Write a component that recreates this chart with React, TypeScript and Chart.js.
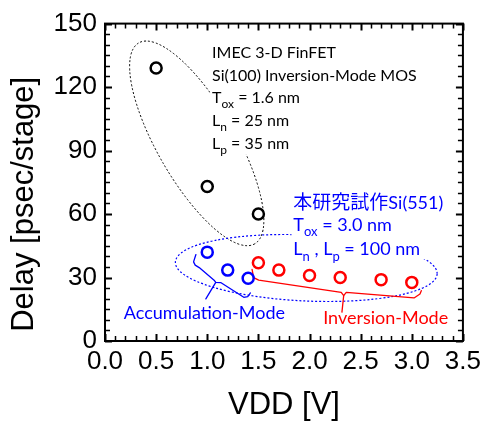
import { useEffect, useRef } from 'react';
import { Chart, registerables } from 'chart.js';

Chart.register(...registerables);

// ---- data ----
const imecVdd = [0.5, 1.0, 1.5];
const imecDelay = [129, 73, 60];
const accVdd = [1.0, 1.2, 1.4];
const accDelay = [42, 33.5, 29.7];
const invVdd = [1.5, 1.7, 2.0, 2.3, 2.7, 3.0];
const invDelay = [37, 33.5, 31, 30, 29, 27.7];
const xTickValues = [0, 0.5, 1.0, 1.5, 2.0, 2.5, 3.0, 3.5];
const yTickValues = [0, 30, 60, 90, 120, 150];
const xTitle = 'VDD [V]';
const yTitle = 'Delay [psec/stage]';

type Seg = { t: string; sub?: boolean; cjk?: boolean };
const imecLines: Seg[][] = [
  [{ t: 'IMEC 3-D FinFET' }],
  [{ t: 'Si(100) Inversion-Mode MOS' }],
  [{ t: 'T' }, { t: 'ox', sub: true }, { t: ' = 1.6 nm' }],
  [{ t: 'L' }, { t: 'n', sub: true }, { t: ' = 25 nm' }],
  [{ t: 'L' }, { t: 'p', sub: true }, { t: ' = 35 nm' }],
];
const ourLines: Seg[][] = [
  [{ t: '本研究試作', cjk: true }, { t: 'Si(551)' }],
  [{ t: 'T' }, { t: 'ox', sub: true }, { t: ' = 3.0 nm' }],
  [{ t: 'L' }, { t: 'n', sub: true }, { t: ' , L' }, { t: 'p', sub: true }, { t: ' = 100 nm' }],
];
const accLabel = 'Accumulation-Mode';
const invLabel = 'Inversion-Mode';

const BLUE = '#0000ff';
const RED = '#ff0000';
const SANS = '"Liberation Sans", Arial, sans-serif';
const ANNO = 'Lato, "Noto Sans", sans-serif';

// annotation geometry (data coordinates)
const accBrace = {
  main: [[0.889, 40.85], [0.866, 37.41], [0.882, 35.87], [0.921, 34.7], [1.067, 28.74], [1.083, 27.67], [1.131, 27.62], [1.357, 20.64], [1.396, 20.96], [1.422, 22.69]],
  stem: [[1.083, 27.67], [0.986, 19.89]],
};
const invBrace = {
  main: [[1.438, 33.87], [1.454, 29.95], [1.503, 28.74], [2.31, 22.97], [2.334, 21.43], [2.359, 22.97], [3.022, 20.36], [3.08, 22.22], [3.093, 23.76]],
  stem: [[2.334, 21.43], [2.317, 13.65]],
};

function drawRich(ctx: CanvasRenderingContext2D, segs: Seg[], x: number, y: number, size: number, cjkSize: number, color: string) {
  let cx = x;
  ctx.fillStyle = color;
  ctx.textBaseline = 'alphabetic';
  ctx.textAlign = 'left';
  for (const s of segs) {
    if (s.cjk) ctx.font = `${cjkSize}px "Noto Sans CJK JP", sans-serif`;
    else if (s.sub) ctx.font = `${Math.round(size * 0.72)}px ${ANNO}`;
    else ctx.font = `${size}px ${ANNO}`;
    const dy = s.sub ? size * 0.32 : 0;
    ctx.fillText(s.t, cx, y + dy);
    cx += ctx.measureText(s.t).width;
  }
}

const annotationPlugin = {
  id: 'annotations',
  beforeDatasetsDraw(chart: any) {
    const ctx: CanvasRenderingContext2D = chart.ctx;
    const xs = chart.scales.x;
    const ys = chart.scales.y;
    const px = (v: number) => xs.getPixelForValue(v);
    const py = (v: number) => ys.getPixelForValue(v);
    ctx.save();
    // black dotted ellipse
    ctx.lineWidth = 1;
    ctx.setLineDash([2, 2]);
    ctx.strokeStyle = '#000';
    ctx.beginPath();
    ctx.ellipse(px(0.897), py(93.4), 116, 39, (60 * Math.PI) / 180, 0, Math.PI * 2);
    ctx.stroke();
    // blue dotted ellipse
    ctx.strokeStyle = BLUE;
    ctx.lineWidth = 1.2;
    ctx.beginPath();
    ctx.ellipse(px(1.968), py(34.5), 131, 33, (2.6 * Math.PI) / 180, 0, Math.PI * 2);
    ctx.stroke();
    ctx.setLineDash([]);
    // white backgrounds of text blocks
    ctx.fillStyle = '#fff';
    ctx.fillRect(px(1.028), py(142.1), px(3.035) - px(1.028), py(88.0) - py(142.1));
    ctx.fillRect(px(1.823), py(71.3), px(3.345) - px(1.823), py(38.7) - py(71.3));
    // texts
    const imecBase = [133.9, 123.1, 112.3, 101.5, 90.7];
    imecLines.forEach((l, i) => drawRich(ctx, l, px(1.047), py(imecBase[i]), 16, 16, '#000'));
    const ourBase = [62.6, 52.2, 40.5];
    ourLines.forEach((l, i) => drawRich(ctx, l, px(1.842), py(ourBase[i]), 18, 19, BLUE));
    drawRich(ctx, [{ t: accLabel }], px(0.184), py(10.2), 18, 18, BLUE);
    drawRich(ctx, [{ t: invLabel }], px(2.133), py(7.9), 18, 18, RED);
    // braces
    const poly = (pts: number[][], color: string) => {
      ctx.strokeStyle = color;
      ctx.lineWidth = 1.3;
      ctx.lineJoin = 'round';
      ctx.lineCap = 'round';
      ctx.beginPath();
      pts.forEach((p, i) => (i === 0 ? ctx.moveTo(px(p[0]), py(p[1])) : ctx.lineTo(px(p[0]), py(p[1]))));
      ctx.stroke();
    };
    poly(accBrace.main, BLUE);
    poly(accBrace.stem, BLUE);
    poly(invBrace.main, RED);
    poly(invBrace.stem, RED);
    ctx.restore();
  },
};

const framePlugin = {
  id: 'frame',
  afterDraw(chart: any) {
    const ctx: CanvasRenderingContext2D = chart.ctx;
    const { left, right, top, bottom } = chart.chartArea;
    const xs = chart.scales.x;
    const ys = chart.scales.y;
    ctx.save();
    ctx.strokeStyle = '#000';
    // inner ticks
    for (let i = 0; i <= 35; i++) {
      const v = i / 10;
      const major = i % 5 === 0;
      const len = major ? 7 : 5;
      const x = Math.round(xs.getPixelForValue(v)) + 0.5;
      ctx.lineWidth = major ? 2 : 1.5;
      ctx.beginPath();
      ctx.moveTo(x, bottom);
      ctx.lineTo(x, bottom - len);
      ctx.moveTo(x, top);
      ctx.lineTo(x, top + len);
      ctx.stroke();
    }
    for (let i = 0; i <= 30; i++) {
      const v = i * 5;
      const major = v % 30 === 0;
      const len = major ? 7 : 5;
      const y = Math.round(ys.getPixelForValue(v)) + 0.5;
      ctx.lineWidth = major ? 2 : 1.5;
      ctx.beginPath();
      ctx.moveTo(left, y);
      ctx.lineTo(left + len, y);
      ctx.moveTo(right, y);
      ctx.lineTo(right - len, y);
      ctx.stroke();
    }
    ctx.lineWidth = 2;
    ctx.strokeRect(left, top, right - left, bottom - top);
    // y axis title
    ctx.translate(left - 80.5, (top + bottom) / 2 + 22);
    ctx.rotate(-Math.PI / 2);
    ctx.fillStyle = '#000';
    ctx.font = `31px ${SANS}`;
    ctx.textAlign = 'center';
    ctx.textBaseline = 'middle';
    ctx.fillText(yTitle, 0, 0);
    ctx.restore();
  },
};

export default function App() {
  const ref = useRef<HTMLCanvasElement>(null);
  useEffect(() => {
    if (!ref.current) return;
    const pt = (xs: number[], ys: number[]) => xs.map((x, i) => ({ x, y: ys[i] }));
    const ds = (label: string, data: any[], color: string) => ({
      label,
      data,
      showLine: false,
      pointRadius: 5.5,
      pointHoverRadius: 5.5,
      pointBorderWidth: 2.5,
      pointBorderColor: color,
      pointBackgroundColor: 'rgba(0,0,0,0)',
    });
    const chart = new Chart(ref.current, {
      type: 'scatter',
      data: {
        datasets: [
          ds('IMEC', pt(imecVdd, imecDelay), '#000'),
          ds('Accumulation-Mode', pt(accVdd, accDelay), BLUE),
          ds('Inversion-Mode', pt(invVdd, invDelay), RED),
        ],
      },
      options: {
        responsive: false,
        animation: false,
        events: [],
        layout: { padding: { top: 19, right: 20, left: 0, bottom: 0 } },
        plugins: { legend: { display: false }, tooltip: { enabled: false } },
        scales: {
          x: {
            type: 'linear',
            min: 0,
            max: 3.5,
            afterBuildTicks: (s: any) => { s.ticks = xTickValues.map((v) => ({ value: v })); },
            afterFit: (s: any) => { s.height = 80; },
            ticks: {
              callback: (v: any) => Number(v).toFixed(1),
              font: { family: SANS, size: 26 },
              color: '#000',
              padding: 5,
              maxRotation: 0,
              autoSkip: false,
            },
            grid: { display: false, drawTicks: false },
            border: { display: false },
            title: {
              display: true,
              text: xTitle,
              font: { family: SANS, size: 31, lineHeight: 1 },
              color: '#000',
              padding: { top: 0, bottom: 0.5 },
            },
          },
          y: {
            type: 'linear',
            min: 0,
            max: 150,
            afterBuildTicks: (s: any) => { s.ticks = yTickValues.map((v) => ({ value: v })); },
            afterFit: (s: any) => { s.width = 105; },
            ticks: {
              font: { family: SANS, size: 26 },
              color: '#000',
              padding: 8,
              autoSkip: false,
            },
            grid: { display: false, drawTicks: false },
            border: { display: false },
          },
        },
      },
      plugins: [annotationPlugin, framePlugin],
    });
    return () => chart.destroy();
  }, []);
  return (
    <>
      <style>{`body{margin:0}`}</style>
      <canvas ref={ref} width={486} height={421} style={{ display: 'block' }} />
    </>
  );
}
